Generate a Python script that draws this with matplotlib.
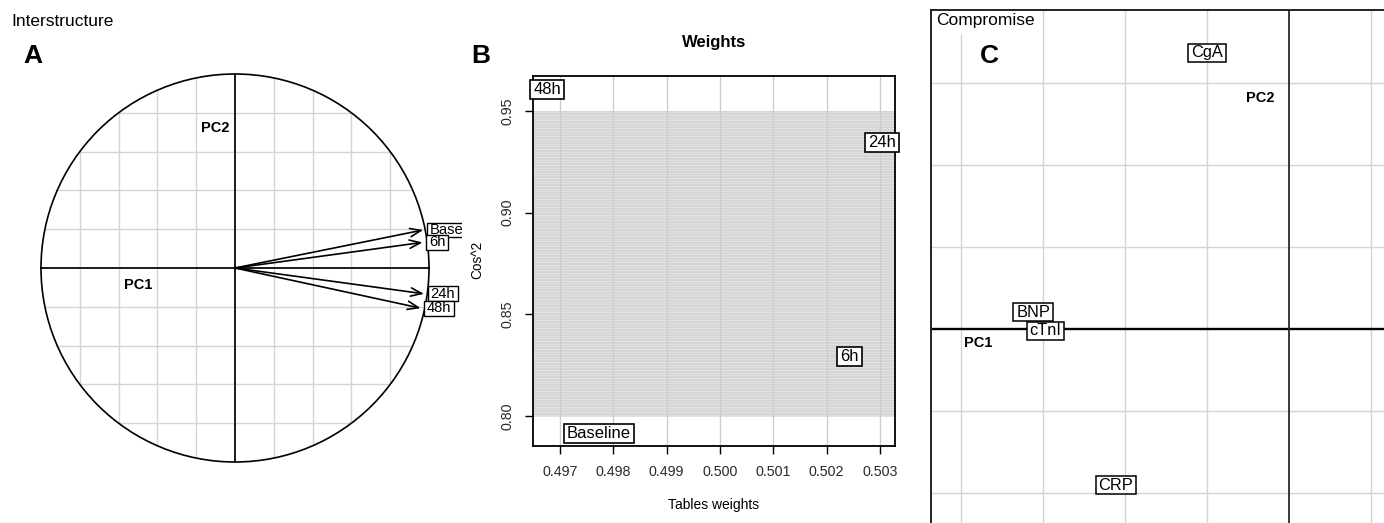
import numpy as np
import matplotlib
matplotlib.use("Agg")
import matplotlib.pyplot as plt
from matplotlib.patches import Circle, FancyArrowPatch
from matplotlib.path import Path
from matplotlib.transforms import ScaledTranslation

plt.rcParams['font.family'] = ['Liberation Sans', 'DejaVu Sans']

# ---------------- data ----------------
# Panel A: interstructure (table vectors on the correlation circle)
inter_tables = ['Baseline', '6h', '24h', '48h']
inter_pc1 = [0.970, 0.967, 0.974, 0.957]
inter_pc2 = [0.196, 0.132, -0.133, -0.207]

# Panel B: table weights vs cos^2
weight_tables = ['48h', '24h', '6h', 'Baseline']
weight_values = [0.49676, 0.50304, 0.50243, 0.49773]
weight_cos2 = [0.9606, 0.9343, 0.8292, 0.7916]
weight_xticks = [0.497, 0.498, 0.499, 0.500, 0.501, 0.502, 0.503]
weight_yticks = [0.80, 0.85, 0.90, 0.95]
weight_band = [0.80, 0.95]

# Panel C: compromise (variables)
comp_vars = ['BNP', 'cTnI', 'CgA', 'CRP']
comp_pc1 = [-3.12, -2.97, -1.00, -2.11]
comp_pc2 = [0.21, -0.02, 3.37, -1.90]

# ---------------- layout helpers ----------------
W, H = 1384, 523
fig = plt.figure(figsize=(W / 100, H / 100), dpi=100)


def add_axes_px(l, t, r, b):
    return fig.add_axes([l / W, 1 - b / H, (r - l) / W, (b - t) / H])


def fp(x, y):
    return (x / W, 1 - y / H)


def box(padx, pady):
    def _box(x0, y0, width, height, mutation_size):
        px = padx * mutation_size
        py = pady * mutation_size
        xa, ya = x0 - px, y0 - py
        xb, yb = x0 + width + px, y0 + height + py
        return Path([(xa, ya), (xb, ya), (xb, yb), (xa, yb), (xa, ya)], closed=True)
    return _box


GRID = '#d4d4d4'

# ---------------- Panel A ----------------
sA, cxA, cyA = 194.0, 235.0, 268.0
lA, tA, rA, bA = 0, 60, 462, 480
axA = add_axes_px(lA, tA, rA, bA)
axA.set_xlim((lA - cxA) / sA, (rA - cxA) / sA)
axA.set_ylim((cyA - bA) / sA, (cyA - tA) / sA)
axA.axis('off')

circ = Circle((0, 0), 1, fill=False, ec='black', lw=1.2, zorder=3)
axA.add_patch(circ)
for g in [-0.8, -0.6, -0.4, -0.2, 0.2, 0.4, 0.6, 0.8]:
    l1, = axA.plot([g, g], [-1, 1], color=GRID, lw=1.0, zorder=1)
    l2, = axA.plot([-1, 1], [g, g], color=GRID, lw=1.0, zorder=1)
    l1.set_clip_path(circ)
    l2.set_clip_path(circ)
axA.plot([-1, 1], [0, 0], color='#1a1a1a', lw=1.4, zorder=2)
axA.plot([0, 0], [-1, 1], color='#1a1a1a', lw=1.4, zorder=2)

for name, x, y in zip(inter_tables, inter_pc1, inter_pc2):
    arr = FancyArrowPatch((0, 0), (x, y),
                          arrowstyle='->,head_length=0.65,head_width=0.25',
                          mutation_scale=12, lw=1.2, color='black',
                          shrinkA=0, shrinkB=0, zorder=3)
    axA.add_patch(arr)
for name, x, y in zip(inter_tables, inter_pc1, inter_pc2):
    axA.text(x, y, name, fontsize=10.6, ha='left', va='center',
             transform=axA.transData + ScaledTranslation(4.6 / 72, 0, fig.dpi_scale_trans),
             bbox=dict(boxstyle=box(0.18, 0.03), fc='white', ec='black', lw=1.0),
             clip_on=True, zorder=4)

axA.text(-0.50, -0.088, 'PC1', fontsize=10.5, fontweight='bold', ha='center', va='center')
axA.text(-0.103, 0.722, 'PC2', fontsize=10.5, fontweight='bold', ha='center', va='center')

fig.text(*fp(11, 21.5), 'Interstructure', fontsize=12.5, ha='left', va='center')
fig.text(*fp(33, 56), 'A', fontsize=19, fontweight='bold', ha='center', va='center')

# ---------------- Panel B ----------------
axB = add_axes_px(533, 76, 895, 446)
axB.set_xlim(0.496494, 0.503281)
axB.set_ylim(0.78524, 0.96722)
axB.axhspan(weight_band[0], weight_band[1], color='#e0e0e0', lw=0, zorder=0.5)
axB.hlines(np.linspace(weight_band[0], weight_band[1], 190), 0.4964, 0.5034,
           color='#d0d0d0', lw=0.45, zorder=0.6)
for xt in weight_xticks:
    axB.axvline(xt, color='#cdcdcd', lw=1.0, zorder=0.8)
axB.set_xticks(weight_xticks)
axB.set_xticklabels(['%.3f' % v for v in weight_xticks])
axB.set_yticks(weight_yticks)
axB.set_yticklabels(['%.2f' % v for v in weight_yticks], rotation=90, va='center')
axB.tick_params(axis='both', direction='out', length=5.8, width=1.0, color='black',
                labelsize=10.3, labelcolor='#2a2a2a')
axB.tick_params(axis='x', pad=8)
axB.tick_params(axis='y', pad=7.5)
for s in axB.spines.values():
    s.set_linewidth(1.3)
    s.set_color('black')
    s.set_zorder(3)
for name, x, y in zip(weight_tables, weight_values, weight_cos2):
    axB.text(x, y, name, fontsize=12, ha='center', va='center',
             bbox=dict(boxstyle=box(0.2, 0.12), fc='white', ec='black', lw=1.2),
             zorder=5)

fig.text(*fp(714, 43), 'Weights', fontsize=12, fontweight='bold', ha='center', va='center')
fig.text(*fp(714, 505), 'Tables weights', fontsize=10, ha='center', va='center')
fig.text(*fp(477, 260), 'Cos^2', fontsize=9.8, rotation=90, ha='center', va='center')
fig.text(*fp(481, 56), 'B', fontsize=19, fontweight='bold', ha='center', va='center')

# ---------------- Panel C ----------------
sC, cxC, cyC = 82.0, 1289.0, 329.3
lC, tC, rC, bC = 931, 10, 1384, 523
axC = add_axes_px(lC, tC, rC, bC)
axC.set_xlim((lC - cxC) / sC, (rC - cxC) / sC)
axC.set_ylim((cyC - bC) / sC, (cyC - tC) / sC)
axC.set_xticks([])
axC.set_yticks([])
axC.spines['right'].set_visible(False)
axC.spines['bottom'].set_visible(False)
for s in ['left', 'top']:
    axC.spines[s].set_linewidth(1.4)
    axC.spines[s].set_color('#222222')
for g in [-4, -3, -2, -1, 1]:
    axC.axvline(g, color=GRID, lw=1.0, zorder=1)
for g in [-2, -1, 1, 2, 3]:
    axC.axhline(g, color=GRID, lw=1.0, zorder=1)
axC.axhline(0, color='black', lw=1.7, zorder=1.5)
axC.axvline(0, color='#2a2a2a', lw=1.3, zorder=1.5)

for name, x, y in zip(comp_vars, comp_pc1, comp_pc2):
    axC.text(x, y, name, fontsize=11.8, ha='center', va='center',
             bbox=dict(boxstyle=box(0.18, 0.1), fc='white', ec='black', lw=1.1),
             zorder=4)

axC.text(-3.79, -0.161, 'PC1', fontsize=10.5, fontweight='bold', ha='center', va='center')
axC.text(-0.354, 2.82, 'PC2', fontsize=10.5, fontweight='bold', ha='center', va='center')

axC.text(*fp(936, 20.5), 'Compromise', transform=fig.transFigure, fontsize=12.5,
         ha='left', va='center', zorder=2.2,
         bbox=dict(boxstyle=box(0.36, 0.36), fc='white', ec='none'))
fig.text(*fp(989, 56), 'C', fontsize=19, fontweight='bold', ha='center', va='center')

fig.savefig('out.png', dpi=100)
